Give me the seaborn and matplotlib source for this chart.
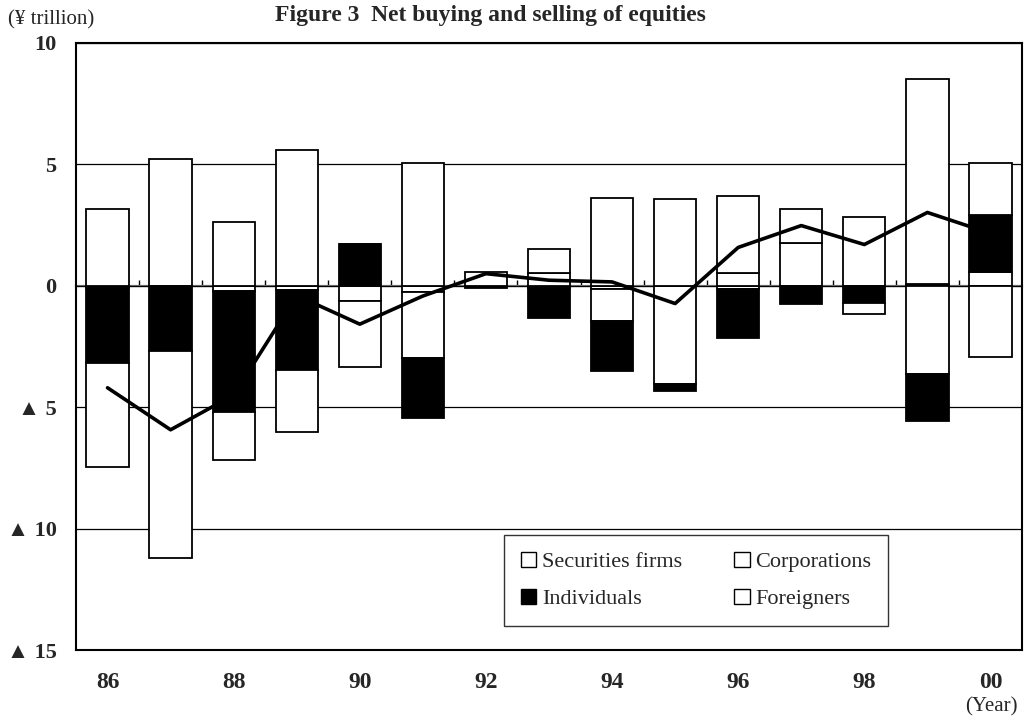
import numpy as np
import pandas as pd
import matplotlib
matplotlib.use("Agg")
import matplotlib.pyplot as plt
from matplotlib.patches import Patch
import seaborn as sns

# ---------------- data (¥ trillion) ----------------
years = ["86", "87", "88", "89", "90", "91", "92", "93", "94", "95", "96", "97", "98", "99", "00"]
securities_firms = [-0.10, 0.00, -0.20, -0.16, -0.63, -0.27, 0.00, -0.10, -0.15, 0.00, -0.12, 0.00, 0.00, 0.07, 0.57]
corporations = [3.17, 5.23, 2.62, 5.60, -2.71, -2.72, 0.00, 0.51, -1.29, -4.05, 0.52, 1.77, 2.82, -3.64, -2.92]
individuals = [-3.10, -2.70, -4.98, -3.31, 1.72, -2.47, -0.08, -1.23, -2.06, -0.27, -2.01, -0.74, -0.72, -1.92, 2.33]
foreigners = [-4.25, -8.50, -1.99, -2.57, 0.00, 5.04, 0.55, 1.00, 3.60, 3.56, 3.16, 1.39, -0.44, 8.44, 2.15]
net_total = [-4.20, -5.93, -4.50, -0.40, -1.58, -0.42, 0.50, 0.23, 0.16, -0.73, 1.58, 2.48, 1.70, 3.02, 2.16]

series_names = ["Securities firms", "Corporations", "Individuals", "Foreigners"]
series_values = [securities_firms, corporations, individuals, foreigners]
series_colors = ["white", "white", "black", "white"]
y_ticks = [10, 5, 0, -5, -10, -15]
y_tick_labels = ["10", "5", "0", "▲ 5", "▲ 10", "▲ 15"]

# ---------------- style ----------------
sns.set_style("white")
plt.rcParams["font.family"] = ["Liberation Serif", "DejaVu Serif"]
plt.rcParams["axes.unicode_minus"] = False

W, H = 1030, 720
fig = plt.figure(figsize=(W / 100, H / 100), dpi=100)
ax = fig.add_axes([76 / W, 1 - 650 / H, 946 / W, 607 / H])

# ---------------- stacked diverging bars ----------------
pos_cum = np.zeros(len(years))
neg_cum = np.zeros(len(years))
for name, vals, col in zip(series_names, series_values, series_colors):
    v = np.asarray(vals, dtype=float)
    bottoms = np.where(v >= 0, pos_cum, neg_cum)
    df = pd.DataFrame({"year": years, "value": v})
    sns.barplot(data=df, x="year", y="value", order=years, color=col,
                saturation=1, width=0.67, errorbar=None, edgecolor="black",
                linewidth=1.3, bottom=bottoms, ax=ax, zorder=3)
    pos_cum = pos_cum + np.where(v > 0, v, 0)
    neg_cum = neg_cum + np.where(v < 0, v, 0)

# ---------------- net total line ----------------
line_df = pd.DataFrame({"year": years, "net": net_total})
sns.pointplot(data=line_df, x="year", y="net", order=years, color="black",
              markers="", linestyles="-", errorbar=None, linewidth=2.6,
              ax=ax, zorder=6)

# ---------------- axes ----------------
ax.set_xlim(-0.5, len(years) - 0.5)
ax.set_ylim(-15, 10)
ax.set_yticks(y_ticks)
ax.set_yticklabels(y_tick_labels, fontsize=16, fontweight="bold")
ax.set_xticks(range(0, len(years), 2))
ax.set_xticklabels(years[::2], fontsize=17, fontweight="bold")
ax.tick_params(axis="x", length=0, pad=16)
ax.tick_params(axis="y", length=0, pad=14)
ax.set_xlabel("")
ax.set_ylabel("")

ax.yaxis.grid(True, color="black", linewidth=0.9)
ax.xaxis.grid(False)
ax.set_axisbelow(True)
for s in ax.spines.values():
    s.set_visible(True)
    s.set_color("black")
    s.set_linewidth(1.5)

# zero line with boundary tick marks
sec = ax.secondary_xaxis(0, transform=ax.transData)
sec.set_xticks(np.arange(0.5, len(years) - 1, 1.0))
sec.set_xticklabels([])
sec.tick_params(direction="in", length=4, width=1, color="black")
sec.spines["bottom"].set_color("#777777")
sec.spines["bottom"].set_linewidth(1.6)

# ---------------- legend (row-wise order like the reference) ----------------
handles = [Patch(facecolor=c, edgecolor="black", linewidth=1) for c in series_colors]
order_idx = [0, 2, 1, 3]
leg = ax.legend([handles[i] for i in order_idx], [series_names[i] for i in order_idx],
                ncol=2, loc="lower left",
                bbox_to_anchor=(0.4524, 0.0395), borderaxespad=0,
                fontsize=16, frameon=True, fancybox=False,
                handlelength=0.7, handleheight=0.7, handletextpad=0.25,
                columnspacing=2.35, borderpad=0.75, labelspacing=0.75)
leg.get_frame().set_edgecolor("black")
leg.get_frame().set_linewidth(1.0)
leg.set_zorder(10)

# ---------------- texts ----------------
fig.text(0.476, 1 - 21 / H, "Figure 3  Net buying and selling of equities",
         ha="center", va="baseline", fontsize=17, fontweight="bold")
fig.text(8 / W, 1 - 20 / H, "(¥ trillion)", ha="left", va="center", fontsize=15)
fig.text(991 / W, 1 - 707 / H, "(Year)", ha="center", va="center", fontsize=15)

fig.savefig("out.png", dpi=100)
